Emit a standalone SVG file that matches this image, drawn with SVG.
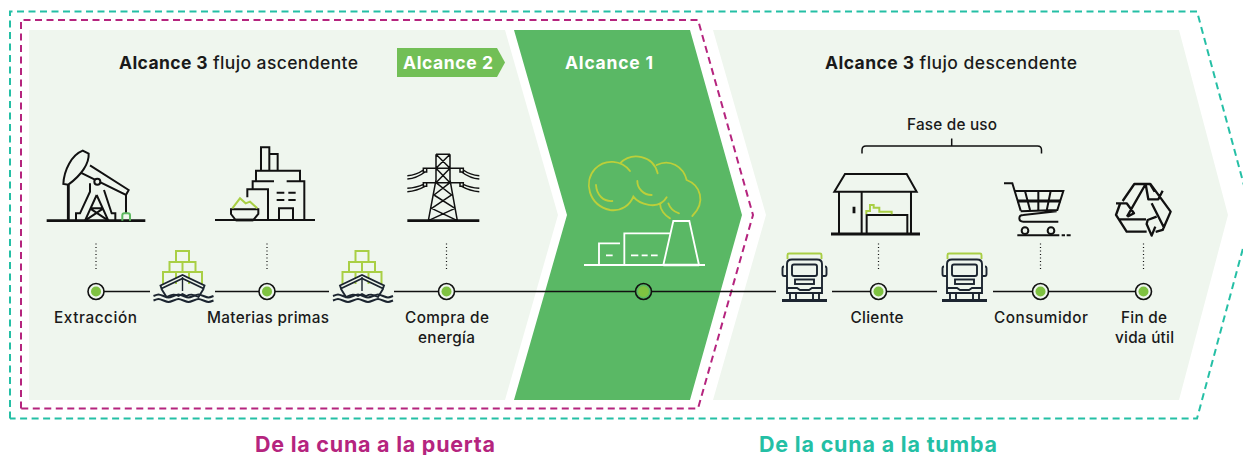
<svg xmlns="http://www.w3.org/2000/svg" width="1243" height="455" viewBox="0 0 1243 455">
<style>
text{font-family:Inter,"Liberation Sans",Arial,sans-serif;fill:#1a1a1a;text-anchor:middle}
.t{font-size:17.5px;font-weight:500}
.b{font-weight:700}
.l{font-size:15.3px;font-weight:500}
.h{font-size:21.5px;font-weight:700}
.k{fill:none;stroke:#111;stroke-width:1.5;stroke-linejoin:round}
.z{fill:none;stroke:#111;stroke-width:6;stroke-linejoin:miter}
.zt{fill:none;stroke:#111;stroke-width:8.500}
.g{fill:none;stroke:#A9CF45;stroke-width:6}
.w{fill:none;stroke:#fff;stroke-width:5.500}
.y{fill:none;stroke:#BCCF3A;stroke-width:5.500;stroke-linecap:round}
.dot{fill:none;stroke:#111;stroke-width:1.2;stroke-dasharray:1 2.5}
.o{fill:#EFF6EE;stroke:#111;stroke-width:1.6}
.i{fill:#7FC241}
</style>
<defs>
<g id="ship">
<path fill="none" stroke="#A9CF45" stroke-width="2" d="M-19.500 33V21H19.500V33M-6.500 21V33M6.500 21V33M-13 21V11H13V21M0 11V21M-6.500 11V0H6.500V11"/>
<g stroke-width="1.900" fill="none" stroke="#1c2530">
<path d="M-22 34.500 0 24 22 34.500 21 37.500 0 27.500 -21 37.500Z" fill="#EFF6EE"/>
<path d="M-21 38-16 46C-10 43-8 43-4 45L0 43 4 45C8 43 10 43 16 46L21 38"/>
<path d="M0 26V40" stroke-width="1.400"/>
<path d="M-29 45c5-2 5-2 10 0s5 2 10 0 5-2 10 0 5 2 10 0 5-2 10 0 5 2 10 0"/>
<path d="M-29 49.500c5-2 5-2 10 0s5 2 10 0 5-2 10 0 5 2 10 0 5-2 10 0 5 2 10 0"/>
</g>
</g>
<g id="truck">
<path d="M27.500 259V255Q27.500 253.500 29 253.500H60Q61.500 253.500 61.500 255V259" fill="none" stroke="#A9CF45" stroke-width="1.900"/>
<g fill="none" stroke="#1c2530" stroke-width="1.900">
<path d="M27 293V264Q27 259.500 32 259.500H57Q62 259.500 62 264V293Z" fill="#EFF6EE"/>
<rect x="32" y="264.500" width="25" height="11.500" rx="2"/>
<rect x="35" y="279.500" width="19" height="4.500"/>
<path d="M24 266.500Q22.500 266.500 22.500 268.500V274Q22.500 276 24 276H27M65 266.500Q66.500 266.500 66.500 268.500V274Q66.500 276 65 276H62"/>
<path d="M27 288H37L40 290H49L52 288H62M30 293V299M36 293V299M53 293V299M59 293V299"/>
</g>
<path d="M22 300.500H67" stroke="#1c2530" stroke-width="3" fill="none"/>
</g>
</defs>
<rect width="1243" height="455" fill="#fff"/>

<g id="background">
<polygon points="29,30 505,30 558,215 505,400 29,400" fill="#EFF6EE"/>
<polygon points="514,30 690,30 742,215 690,400 514,400 567,215" fill="#5AB865"/>
<polygon points="713,30 1179,30 1228,215 1179,400 713,400 766,215" fill="#EFF6EE"/>
<polyline points="21,408.500 21,20 698,20 753,215 698,408.500 21,408.500" fill="none" stroke="#B5247E" stroke-width="2" stroke-dasharray="7 4.500"/>
<polyline points="10,418.500 10,11.500 1197,11.500 1252,215 1197,418.500 10,418.500" fill="none" stroke="#24BFA5" stroke-width="2" stroke-dasharray="7 4.500"/>
</g>

<g id="titles">
<text class="t" x="238.500" y="68.500" textLength="239" lengthAdjust="spacing"><tspan class="b">Alcance 3</tspan> flujo ascendente</text>
<polygon points="397,48 497,48 505,62.500 497,77 397,77" fill="#72BF56"/>
<text class="t b" x="448" y="68.500" style="fill:#fff" textLength="90" lengthAdjust="spacing">Alcance 2</text>
<text class="t b" x="609" y="68.500" style="fill:#fff" textLength="88" lengthAdjust="spacing">Alcance 1</text>
<text class="t" x="951" y="68.500" textLength="252" lengthAdjust="spacing"><tspan class="b">Alcance 3</tspan> flujo descendente</text>
<text class="l" x="952" y="130" textLength="90" lengthAdjust="spacing">Fase de uso</text>
<path class="k" d="M862 153.500V150Q862 146 866 146H1037.500Q1041.500 146 1041.500 150V153.500M951.700 146V138.500"/>
<text class="h" x="375" y="451.500" style="fill:#B5247E" textLength="240" lengthAdjust="spacing">De la cuna a la puerta</text>
<text class="h" x="878" y="451.500" style="fill:#24BFA5" textLength="238" lengthAdjust="spacing">De la cuna a la tumba</text>
</g>

<g id="connectors">
<path class="k" d="M104 291.500H150M215 291.500H329M394 291.500H776M832 291.500H937M993 291.500H1144"/>
<path class="dot" d="M96 243.500V271M267 243.500V271M446.500 243.500V271M878.500 243.500V271M1040.500 243.500V271M1143.500 243.500V271"/>
</g>

<g id="n-extraccion">
<g transform="translate(40,140) scale(.3333)">
<path class="zt" d="M20 242H316M85 135V242"/>
<path class="z" d="M70 132C72 90 95 45 128 32L146 41C148 70 125 105 85 134ZM150 76 266 150 258 165 122 98M150 130V155L120 220H108V242M192 150 215 220H226V242M170 165 135 242M170 165 205 242M155 205H188M150 205 205 242M190 205 135 242M258 165V220"/>
<circle cx="172" cy="125" r="9" fill="#EFF6EE" stroke="#111" stroke-width="6"/>
<path fill="none" stroke="#5CB85F" stroke-width="6" d="M247 242V226Q247 220 253 220H264Q270 220 270 226V242"/>
</g>
<circle class="o" cx="96" cy="291.500" r="8"/><circle class="i" cx="96" cy="291.500" r="5"/>
<text class="l" x="95.500" y="323" textLength="83" lengthAdjust="spacing">Extracción</text>
</g>

<g id="n-barco1"><use href="#ship" x="182.500" y="251"/></g>

<g id="n-materias">
<g transform="translate(205,140) scale(.3333)">
<path class="z" d="M30 240H330M168 92V22H193V92M193 42H218V92M153 122V92H285V122M143 150V124H207M245 124H298V240M127 172V148H189V240M215 158H238M250 158H272M215 180H238M250 180H272M222 240V205H264V240M78 208H160V222L145 240H92L78 222Z"/>
<path class="zt" d="M92 240H145"/>
<path class="g" d="M82 205 105 175 122 190 135 185 157 205"/>
</g>
<circle class="o" cx="267" cy="291.500" r="8"/><circle class="i" cx="267" cy="291.500" r="5"/>
<text class="l" x="268" y="323" textLength="122" lengthAdjust="spacing">Materias primas</text>
</g>

<g id="n-barco2"><use href="#ship" x="362" y="251"/></g>

<g id="n-energia">
<g transform="translate(400,145) scale(.3333)">
<path class="zt" d="M22 227H238"/>
<path class="z" style="stroke-width:4.500" d="M108 28H150M108 28V105L85 227M150 28V105L172 227M108 28 150 70M150 28 108 70M108 70 150 113M150 70 108 113M108 113 155 150M150 113 102 150M102 150 165 190M155 150 95 190M95 190 172 227M165 190 85 227M70 70H190M70 113H190M70 70H80V81H70ZM180 70H190V81H180ZM70 113H80V124H70ZM180 113H190V124H180ZM22 92Q50 90 70 75M22 102Q50 100 75 81M238 92Q210 90 190 75M238 102Q210 100 185 81M22 130Q50 128 70 118M22 140Q50 138 75 124M238 130Q210 128 190 118M238 140Q210 138 185 124"/>
</g>
<circle class="o" cx="446.500" cy="291.500" r="8"/><circle class="i" cx="446.500" cy="291.500" r="5"/>
<text class="l" x="447" y="323" textLength="84" lengthAdjust="spacing">Compra de</text>
<text class="l" x="446.500" y="343" textLength="57" lengthAdjust="spacing">energía</text>
</g>

<g id="n-alcance1">
<g transform="translate(575,145) scale(.3333)">
<path class="w" d="M27 360H390M72 360V295H135M93 331H113M148 360V265H285M168 331H190M200 331H218M228 331H248M265 360 295 228H343L372 360"/>
<path class="w" style="stroke-width:7" d="M265 360H372"/>
<path class="y" d="M165 78C140 45 90 40 60 72 25 110 40 180 105 195 140 200 165 180 175 155 190 175 250 200 275 157M135 55C170 20 235 30 248 85M245 60C285 40 325 65 335 105 375 120 395 170 352 213M63 120C65 150 85 170 112 168M187 108C187 130 205 150 230 150M255 175C255 195 270 212 285 220M280 175C285 190 295 200 312 205"/>
</g>
<circle cx="643.500" cy="291.500" r="8" fill="#5AB865" stroke="#111" stroke-width="1.600"/><circle class="i" cx="643.500" cy="291.500" r="5.500"/>
</g>

<g id="n-camion1"><use href="#truck" x="760" y="0"/></g>

<g id="n-cliente">
<g transform="translate(825,165) scale(.3333)">
<path class="z" d="M60 27H245L275 80H28ZM42 80V207M110 80V207M258 80V207M125 207V150H247V207"/>
<path class="zt" d="M18 207H285M87 125V145"/>
<path class="g" d="M124 148V138H135V120H146V128H163V140H200V148"/>
</g>
<circle class="o" cx="878.500" cy="291.500" r="8"/><circle class="i" cx="878.500" cy="291.500" r="5"/>
<text class="l" x="877" y="323" textLength="53" lengthAdjust="spacing">Cliente</text>
</g>

<g id="n-camion2"><use href="#truck" x="920" y="0"/></g>

<g id="n-consumidor">
<g transform="translate(980,0) scale(.3333)">
<path class="z" d="M72 550H97L122 632M105 573H250L232 630 122 634M135 573 150 630M175 573V632M212 573 200 632M235 665H130Q118 665 118 655T130 645L230 634M112 706H238M245 706H255M260 706H272"/>
<path class="zt" d="M112 603H242"/>
<circle cx="135" cy="692" r="10" fill="none" stroke="#111" stroke-width="6"/>
<circle cx="213" cy="692" r="10" fill="none" stroke="#111" stroke-width="6"/>
</g>
<circle class="o" cx="1040.500" cy="291.500" r="8"/><circle class="i" cx="1040.500" cy="291.500" r="5"/>
<text class="l" x="1041" y="323" textLength="94" lengthAdjust="spacing">Consumidor</text>
</g>

<g id="n-fin">
<g transform="translate(980,0) scale(.3333)">
<path class="z" style="stroke-width:7;stroke-linejoin:round" d="M428 603 463 552H510L524 575M441 650 497 552M497 552 505 598H535L548 572M510 550 572 635 548 690 527 696M515 610 553 685M530 650 503 660 500 672 515 707 526 680M500 695H440L408 645 420 612M415 658H498M408 610H440L462 640 442 650"/>
</g>
<circle class="o" cx="1143.500" cy="291.500" r="8"/><circle class="i" cx="1143.500" cy="291.500" r="5"/>
<text class="l" x="1144" y="323" textLength="46" lengthAdjust="spacing">Fin de</text>
<text class="l" x="1144.500" y="343" textLength="59" lengthAdjust="spacing">vida útil</text>
</g>
</svg>
